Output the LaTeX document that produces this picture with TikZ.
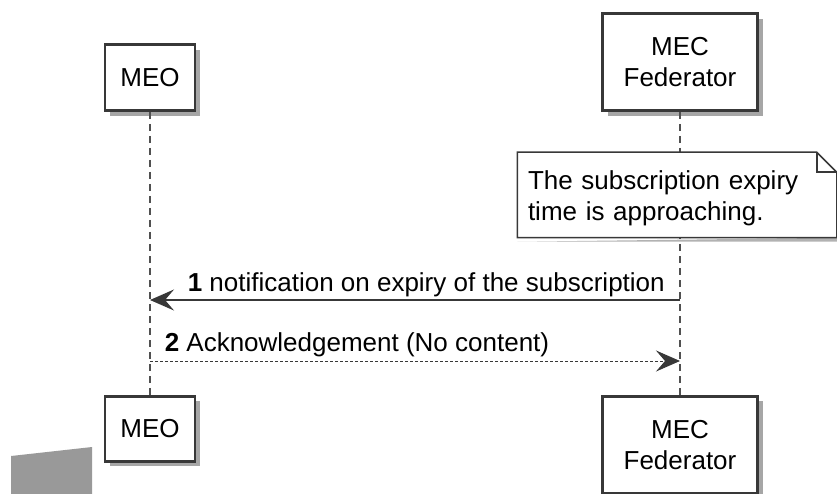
\documentclass[tikz,border=0pt]{standalone}
\usepackage{fontspec}
\setmainfont{Liberation Sans}
\usepackage{tikz}
\usetikzlibrary{arrows.meta,shadows}
\definecolor{boxline}{RGB}{56,56,56}
\definecolor{lifegray}{RGB}{80,80,80}
\definecolor{blockgray}{RGB}{153,153,153}

\begin{document}
\begin{tikzpicture}[x=1pt,y=-1pt,>={Stealth[length=24pt,width=21pt,inset=9pt]},
                    line width=1.5pt]
  \tikzstyle{participant}=[draw=boxline,line width=2.5pt,fill=white,align=center,
      minimum width=90pt,inner sep=0pt,font=\fontsize{26}{31}\selectfont,
      drop shadow={shadow xshift=5pt,shadow yshift=-5pt,fill=black,opacity=.35}]
  \tikzstyle{lifeline}=[draw=lifegray,dash pattern=on 7pt off 5pt]
  \tikzstyle{msg}=[font=\fontsize{26}{31}\selectfont,anchor=base west,inner sep=0pt]

  \useasboundingbox (0,0) rectangle (837,494);
  \fill[blockgray] (11,456) -- (92,447) -- (92,494) -- (11,494) -- cycle;

  \node[participant,minimum height=66pt,anchor=south] (meoT) at (150,112) {MEO};
  \node[participant,minimum width=155pt,minimum height=97pt,anchor=south] (fedT) at (680,112) {MEC\\Federator};
  \node[participant,minimum height=65pt,anchor=north] (meoB) at (150,395) {MEO};
  \node[participant,minimum width=155pt,minimum height=97pt,anchor=north] (fedB) at (680,395) {MEC\\Federator};

  \draw[lifeline] (meoT) -- (meoB);
  \draw[lifeline] (fedT) -- (fedB);

  % note on the federator lifeline
  \node[minimum width=318pt,minimum height=84pt,inner sep=0pt] (note) at (677,195) {};
  \fill[black,opacity=.3] ([xshift=4pt,yshift=-4pt]note.north east) -- ([xshift=4pt,yshift=-4pt]note.south east)
        -- ([xshift=4pt,yshift=-4pt]note.south west) -- ([yshift=-4pt]note.south west) -- (note.south east) -- cycle;
  \draw[boxline,fill=white] (note.north west) -- ([xshift=-20pt]note.north east) -- ([yshift=-20pt]note.north east)
        -- (note.south east) -- (note.south west) -- cycle;
  \draw[boxline] ([xshift=-20pt]note.north east) -- ([xshift=-20pt,yshift=-20pt]note.north east) -- ([yshift=-20pt]note.north east);
  \node[text width=298pt,inner sep=0pt,align=left,font=\fontsize{26}{31}\selectfont] (notetext) at ([yshift=-3pt]note)
        {The subscription expiry\\time is approaching.};

  \coordinate (y1) at (0,300);
  \coordinate (y2) at (0,361);
  \draw[->,boxline] (fedT |- y1) -- (meoT |- y1);
  \draw[->,boxline,line width=1pt,dash pattern=on 3pt off 2pt] (meoT |- y2) -- (fedT |- y2);
  \node[msg] (m1) at (187,291) {\textbf{1} notification on expiry of the subscription};
  \node[msg] (m2) at (164,351) {\textbf{2} Acknowledgement (No content)};
\end{tikzpicture}
\end{document}
